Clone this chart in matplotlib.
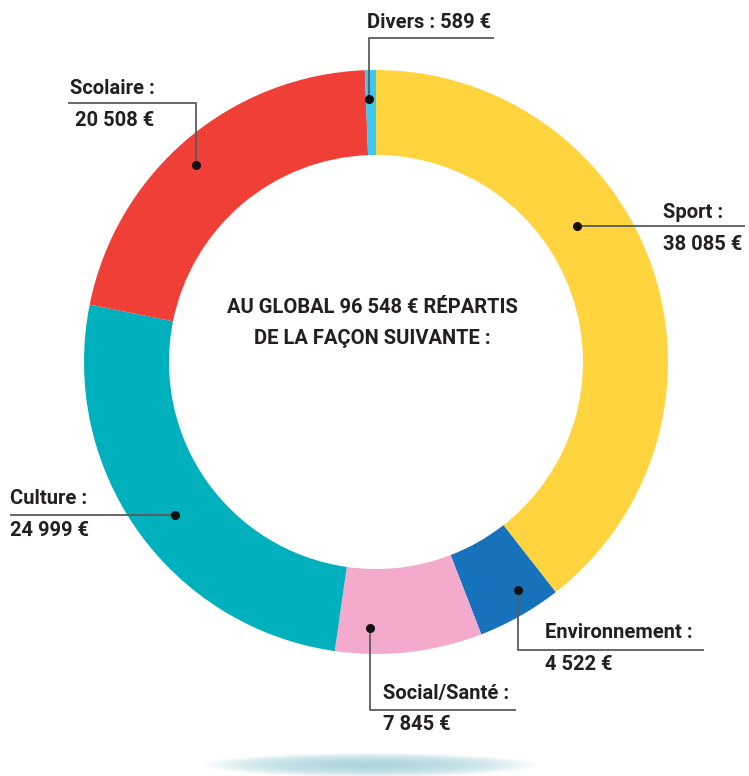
import numpy as np
import matplotlib
matplotlib.use('Agg')
import matplotlib.pyplot as plt
from matplotlib.patches import Ellipse

# données (ordre horaire depuis le haut)
categories = ['Sport', 'Environnement', 'Social/Santé', 'Culture', 'Scolaire', 'Divers']
montants = [38085, 4522, 7845, 24999, 20508, 589]
couleurs = ['#FFD43F', '#1673BB', '#F4AACD', '#00B0BD', '#EF3F37', '#3CC7F1']
titre = 'AU GLOBAL {} € RÉPARTIS\nDE LA FAÇON SUIVANTE :'

W, H = 749, 776
CX, CY, R, EP = 376, 362, 292, 85

# mise en page des étiquettes (pixels, y vers le bas)
etiq = {
    'Divers':        dict(trace=[(369, 99), (369, 38), (494, 38)], txt=(367, 22), une=True),
    'Scolaire':      dict(trace=[(196, 165), (196, 103), (68, 103)], txt=(70, 88)),
    'Sport':         dict(trace=[(577, 226), (745, 226)], txt=(663, 212)),
    'Culture':       dict(trace=[(175, 515), (10, 515)], txt=(10, 499)),
    'Environnement': dict(trace=[(518, 590), (518, 650), (704, 650)], txt=(545, 633)),
    'Social/Santé':  dict(trace=[(370, 628), (370, 710), (516, 710)], txt=(383, 693)),
}
decal = {'Scolaire': 5}


def fy(y):
    return H - y


def milliers(v):
    return f"{v:,}".replace(',', ' ')


fig = plt.figure(figsize=(W / 100, H / 100), dpi=100)
ax = fig.add_axes([0, 0, 1, 1])

ax.pie(montants, colors=couleurs, startangle=90, counterclock=False,
       radius=R, center=(CX, fy(CY)),
       wedgeprops=dict(width=EP, linewidth=0))

# ombre sous le graphique
for k in np.linspace(1, 0.15, 25):
    ax.add_patch(Ellipse((370, fy(765)), 330 * k, 24 * k,
                         color='#a3d3dc', alpha=0.065, lw=0))

police = dict(family=['Roboto', 'DejaVu Sans'], fontweight='bold', color='#231f20', fontsize=14.5)

ax.text(372, fy(323), titre.format(milliers(sum(montants))),
        ha='center', va='center', linespacing=1.75, **police)

for nom, v in zip(categories, montants):
    e = etiq[nom]
    xs = [p[0] for p in e['trace']]
    ys = [fy(p[1]) for p in e['trace']]
    ax.plot(xs, ys, color='#5a5a5a', lw=1.3, solid_capstyle='butt')
    ax.plot(xs[0], ys[0], 'o', color='#111111', ms=5.5)
    tx, ty = e['txt']
    if e.get('une'):
        ax.text(tx, fy(ty), f"{nom} : {milliers(v)} €", ha='left', va='center', **police)
    else:
        ax.text(tx, fy(ty), f"{nom} :", ha='left', va='center', **police)
        ax.text(tx + decal.get(nom, 0), fy(ty + 32), f"{milliers(v)} €",
                ha='left', va='center', **police)

ax.set_xlim(0, W)
ax.set_ylim(0, H)
ax.set_aspect('equal')
ax.axis('off')
fig.savefig('out.png', dpi=100)
